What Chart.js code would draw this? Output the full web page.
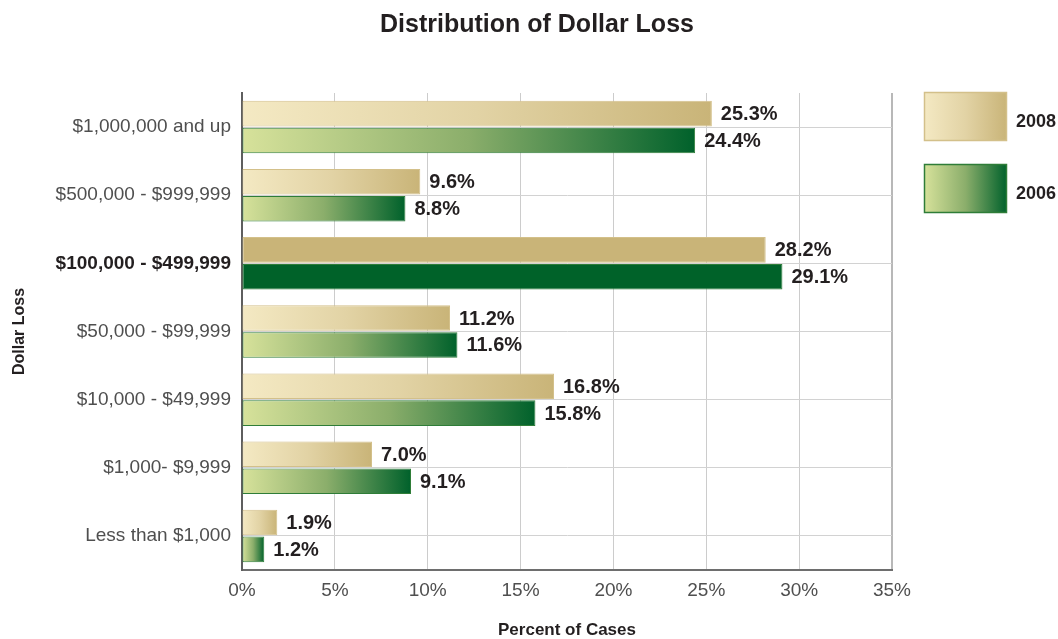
<!DOCTYPE html>
<html>
<head>
<meta charset="utf-8">
<script src="https://cdn.jsdelivr.net/npm/chart.js@4.4.0/dist/chart.umd.min.js"></script>
<style>
html,body{margin:0;padding:0;background:#fff;overflow:hidden;}
canvas{display:block;}
</style>
</head>
<body>
<canvas id="c" width="1058" height="639"></canvas>
<script>
// ---- data ----
const categories = ["$1,000,000 and up", "$500,000 - $999,999", "$100,000 - $499,999", "$50,000 - $99,999", "$10,000 - $49,999", "$1,000- $9,999", "Less than $1,000"];
const series2008 = [25.3, 9.6, 28.2, 11.2, 16.8, 7.0, 1.9];
const series2006 = [24.4, 8.8, 29.1, 11.6, 15.8, 9.1, 1.2];
const seriesNames = ["2008", "2006"];
const xTicks = [0, 5, 10, 15, 20, 25, 30, 35];
const highlightCategory = "$100,000 - $499,999";
const chartTitle = "Distribution of Dollar Loss";
const xTitle = "Percent of Cases";
const yTitle = "Dollar Loss";

// ---- styles ----
const TEXT = "#231f20";
const TICK = "#4f4f4f";
const FONT = "'Liberation Sans', Arial, Helvetica, sans-serif";
const palette = {
  "2008": { stops: ["#f4e9c3", "#e2d3a5", "#c9b478"], solid: "#c9b478", border: "#d3c08a" },
  "2006": { stops: ["#d7e29b", "#8bae6b", "#00612b"], solid: "#006229", border: "#2f7d38" }
};
const hiIndex = categories.indexOf(highlightCategory);

function barFill(name) {
  const p = palette[name];
  return (ctx) => {
    if (ctx.type !== 'data') return p.solid;
    if (ctx.dataIndex === hiIndex) return p.solid;
    const chart = ctx.chart;
    const xs = chart.scales.x;
    if (!chart.chartArea || !xs) return p.solid;
    const x0 = xs.getPixelForValue(0);
    const x1 = xs.getPixelForValue(ctx.raw);
    if (!isFinite(x0) || !isFinite(x1) || x1 - x0 < 1) return p.solid;
    const g = chart.ctx.createLinearGradient(x0, 0, x1, 0);
    g.addColorStop(0, p.stops[0]);
    g.addColorStop(0.5, p.stops[1]);
    g.addColorStop(1, p.stops[2]);
    return g;
  };
}

const decorPlugin = {
  id: 'decor',
  afterDraw(chart) {
    const c = chart.ctx;
    c.save();
    // title
    c.fillStyle = TEXT;
    c.font = "bold 25px " + FONT;
    c.textAlign = 'center';
    c.textBaseline = 'middle';
    c.fillText(chartTitle, 537, 25);

    // value labels
    c.font = "bold 20px " + FONT;
    c.textAlign = 'left';
    chart.data.datasets.forEach((ds, di) => {
      const meta = chart.getDatasetMeta(di);
      meta.data.forEach((bar, i) => {
        c.fillText(ds.data[i].toFixed(1) + '%', bar.x + 9, bar.y + 1);
      });
    });

    // legend
    const boxes = [{ y: 92 }, { y: 164 }];
    seriesNames.forEach((name, k) => {
      const p = palette[name];
      const x = 924, y = boxes[k].y, w = 83, h = 49;
      const g = c.createLinearGradient(x, 0, x + w, 0);
      g.addColorStop(0, p.stops[0]);
      g.addColorStop(0.5, p.stops[1]);
      g.addColorStop(1, p.stops[2]);
      c.fillStyle = g;
      c.fillRect(x, y, w, h);
      c.strokeStyle = p.border;
      c.lineWidth = 1.5;
      c.strokeRect(x + 0.5, y + 0.5, w - 1, h - 1);
      c.fillStyle = TEXT;
      c.font = "bold 18px " + FONT;
      c.textAlign = 'left';
      c.textBaseline = 'middle';
      c.fillText(name, 1016, y + h / 2 + 6);
    });
    c.restore();
  }
};

new Chart(document.getElementById('c'), {
  type: 'bar',
  data: {
    labels: categories,
    datasets: [
      { label: seriesNames[0], data: series2008, backgroundColor: barFill("2008"),
        borderColor: palette["2008"].border, borderWidth: 1, borderSkipped: false },
      { label: seriesNames[1], data: series2006, backgroundColor: barFill("2006"),
        borderColor: palette["2006"].border, borderWidth: 1, borderSkipped: false }
    ]
  },
  options: {
    indexAxis: 'y',
    responsive: false,
    animation: false,
    devicePixelRatio: 1,
    layout: { padding: { top: 93, right: 166, left: 0, bottom: 0 } },
    datasets: { bar: { categoryPercentage: 0.79, barPercentage: 0.95 } },
    plugins: { legend: { display: false }, title: { display: false }, tooltip: { enabled: false } },
    scales: {
      x: {
        min: 0, max: 35,
        afterFit: (s) => { s.height = 69; },
        afterBuildTicks: (s) => { s.ticks = xTicks.map(v => ({ value: v })); },
        ticks: { callback: (v) => v + '%', color: TICK, padding: 9, font: { family: FONT, size: 19 } },
        grid: {
          drawTicks: false,
          color: (ctx) => ctx.tick && ctx.tick.value === 35 ? '#b8b8b8' : '#cccccc',
          lineWidth: (ctx) => ctx.tick && ctx.tick.value === 35 ? 2 : 1
        },
        border: { display: true, color: '#6e6e6e', width: 2 },
        title: { display: true, text: xTitle, color: TEXT, padding: 0,
          font: { family: FONT, size: 17, weight: 'bold', lineHeight: 1 } }
      },
      y: {
        afterFit: (s) => { s.width = 242; },
        ticks: {
          padding: 11,
          color: (ctx) => ctx.index === hiIndex ? TEXT : TICK,
          font: (ctx) => ({ family: FONT, size: 19, weight: ctx.index === hiIndex ? 'bold' : 'normal' })
        },
        grid: { offset: false, drawTicks: false, color: '#d2d2d2', lineWidth: 1 },
        border: { display: true, color: '#5e5e5e', width: 2 },
        title: { display: true, text: yTitle, color: TEXT, padding: { top: 10, bottom: 0 },
          font: { family: FONT, size: 16, weight: 'bold', lineHeight: 1.2 } }
      }
    }
  },
  plugins: [decorPlugin]
});
</script>
</body>
</html>
